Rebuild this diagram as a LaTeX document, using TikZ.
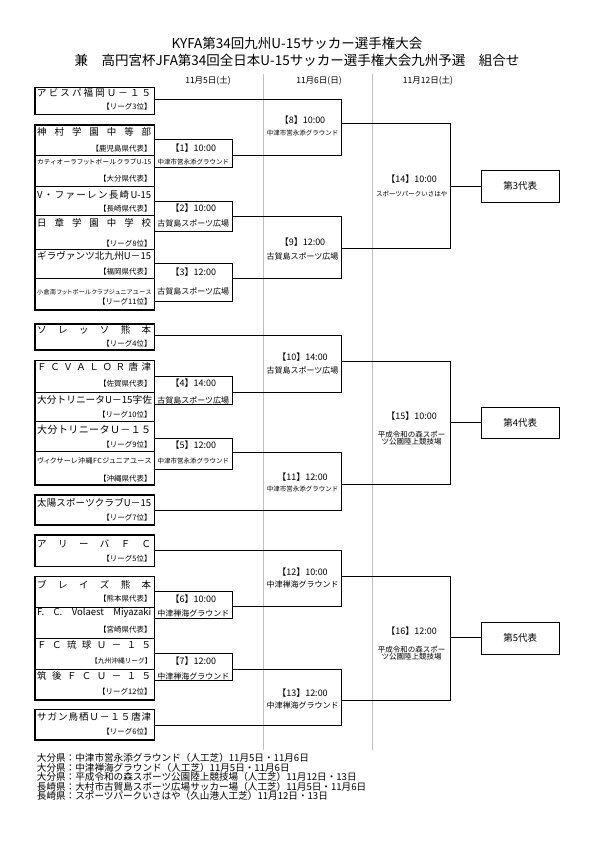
\documentclass[tikz,border=0pt]{standalone}
\usepackage{fontspec}
\setmainfont{Noto Sans CJK JP}
\newfontfamily\pjfont{Noto Sans CJK JP}[RawFeature=+palt]
\newcommand\setfs[1]{\fontsize{#1}{#1}\selectfont}
\makeatletter
\newcommand\dist[1]{\makebox[114pt][s]{\dist@a#1\relax}}
\def\dist@a#1{#1\dist@b}
\def\dist@b#1{\ifx\relax#1\else\hfill#1\expandafter\dist@b\fi}
\makeatother

\begin{document}
\begin{tikzpicture}%
	[x=1pt, y=-1pt,
	team/.style={draw, line width=0.5pt, minimum width=119.3pt, inner sep=0pt, outer sep=0pt},
	groupframe/.style={draw, line width=1.2pt},
	match/.style={draw, line width=0.9pt, minimum width=78pt, inner sep=0pt, outer sep=0pt},
	result/.style={draw, line width=0.9pt, minimum width=78.3pt, inner sep=0pt, outer sep=0pt, font=\setfs{9.5}},
	link/.style={line width=0.9pt},
	guide/.style={draw=black!25, line width=0.8pt},
	teamname/.style={inner sep=0pt, font=\setfs{9.5}},
	seed/.style={inner sep=0pt, anchor=east, font=\setfs{7.5}},
	kickoff/.style={inner sep=0pt, font=\setfs{9}},
	venue/.style={inner sep=0pt, font=\setfs{8}},
	smallvenue/.style={inner sep=0pt, font=\setfs{6.5}},
	date/.style={inner sep=0pt, font=\setfs{8.5}}]
\useasboundingbox (0,0) rectangle (595,842);
%%
%% Title and dates
%%
\node[inner sep=0pt, font=\setfs{13.5}] (title1) at (297,43) {KYFA第34回九州U-15サッカー選手権大会};
\node[inner sep=0pt, font=\setfs{13.5}] (title2) at (297,60.7) {兼　高円宮杯JFA第34回全日本U-15サッカー選手権大会九州予選　組合せ};
\node[date] (d1) at (208,81) {11月5日(土)};
\node[date] (d2) at (319,81) {11月6日(日)};
\node[date] (d3) at (428,81) {11月12日(土)};
\draw[guide] (263.5,74) -- (263.5,750);
\draw[guide] (372.5,74) -- (372.5,750);
%%
%% Team boxes
%%
\node[team, minimum height=27pt] (t1) at (94.65,101.2) {};
\node[team, minimum height=30.7pt] (t2) at (94.65,140.35) {};
\node[team, minimum height=31pt] (t3) at (94.65,171.2) {};
\node[team, minimum height=28.3pt] (t4) at (94.65,200.85) {};
\node[team, minimum height=34pt] (t5) at (94.65,232) {};
\node[team, minimum height=29.3pt] (t6) at (94.65,263.65) {};
\node[team, minimum height=31.7pt] (t7) at (94.65,294.15) {};
\node[team, minimum height=26pt] (t8) at (94.65,337) {};
\node[team, minimum height=31.6pt] (t9) at (94.65,376.5) {};
\node[team, minimum height=29.4pt] (t10) at (94.65,407) {};
\node[team, minimum height=30pt] (t11) at (94.65,436.7) {};
\node[team, minimum height=33.3pt] (t12) at (94.65,468.35) {};
\node[team, minimum height=30pt] (t13) at (94.65,510) {};
\node[team, minimum height=31.7pt] (t14) at (94.65,550.85) {};
\node[team, minimum height=30.6pt] (t15) at (94.65,592) {};
\node[team, minimum height=31pt] (t16) at (94.65,622.8) {};
\node[team, minimum height=30.7pt] (t17) at (94.65,653.65) {};
\node[team, minimum height=31pt] (t18) at (94.65,684.5) {};
\node[team, minimum height=30.7pt] (t19) at (94.65,724.65) {};
\draw[groupframe] (t1.north west) rectangle (t1.south east);
\draw[groupframe] (t2.north west) rectangle (t7.south east);
\draw[groupframe] (t8.north west) rectangle (t8.south east);
\draw[groupframe] (t9.north west) rectangle (t12.south east);
\draw[groupframe] (t13.north west) rectangle (t13.south east);
\draw[groupframe] (t14.north west) rectangle (t14.south east);
\draw[groupframe] (t15.north west) rectangle (t18.south east);
\draw[groupframe] (t19.north west) rectangle (t19.south east);
%%
%% Team names and seeds
%%
\node[teamname] (t1n) at (94.2,93.2) {\dist{アビスパ福岡Ｕ－１５}};
\node[seed] (t1s) at (151.7,106.7) {【リーグ3位】};
\node[teamname] (t2n) at (94.2,132.3) {\dist{神村学園中等部}};
\node[seed] (t2s) at (151.7,148.3) {【鹿児島県代表】};
\node[teamname, font=\pjfont\setfs{6.6}] (t3n) at (94.2,161.7) {\dist{カティオーラフットボールクラブ{U-15}}};
\node[seed] (t3s) at (151.7,178.3) {【大分県代表】};
\node[teamname] (t4n) at (94.2,195) {\dist{V・ファーレン長崎{U-15}}};
\node[seed] (t4s) at (151.7,208.3) {【長崎県代表】};
\node[teamname] (t5n) at (94.2,223.3) {\dist{日章学園中学校}};
\node[seed] (t5s) at (151.7,243.3) {【リーグ8位】};
\node[teamname] (t6n) at (94.2,256) {\dist{ギラヴァンツ北九州U－15}};
\node[seed] (t6s) at (151.7,271.7) {【福岡県代表】};
\node[teamname, font=\pjfont\setfs{6}] (t7n) at (94.2,291.7) {\dist{小倉南フットボールクラブジュニアユース}};
\node[seed] (t7s) at (151.7,301.7) {【リーグ11位】};
\node[teamname] (t8n) at (94.2,330) {\dist{ソレッソ熊本}};
\node[seed] (t8s) at (151.7,344) {【リーグ4位】};
\node[teamname] (t9n) at (94.2,366.7) {\dist{ＦＣＶＡＬＯＲ唐津}};
\node[seed] (t9s) at (151.7,383.3) {【佐賀県代表】};
\node[teamname, font=\setfs{9.7}] (t10n) at (94.2,400) {\dist{大分トリニータU－15宇佐}};
\node[seed] (t10s) at (151.7,414.3) {【リーグ10位】};
\node[teamname, font=\setfs{10}] (t11n) at (94.2,430) {\dist{大分トリニータＵ－１５}};
\node[seed] (t11s) at (151.7,445) {【リーグ9位】};
\node[teamname, font=\pjfont\setfs{7}] (t12n) at (94.2,460.7) {\dist{ヴィクサーレ沖縄FCジュニアユース}};
\node[seed] (t12s) at (151.7,478.3) {【沖縄県代表】};
\node[teamname] (t13n) at (94.2,503.3) {\dist{太陽スポーツクラブU－15}};
\node[seed] (t13s) at (151.7,517.3) {【リーグ7位】};
\node[teamname] (t14n) at (94.2,543.3) {\dist{アリーバＦＣ}};
\node[seed] (t14s) at (151.7,558.3) {【リーグ5位】};
\node[teamname] (t15n) at (94.2,585) {\dist{ブレイズ熊本}};
\node[seed] (t15s) at (151.7,599) {【熊本県代表】};
\node[teamname] (t16n) at (94.2,613.3) {\makebox[114pt][s]{F.\hfill C.\hfill Volaest\hfill Miyazaki}};
\node[seed] (t16s) at (151.7,630) {【宮崎県代表】};
\node[teamname] (t17n) at (94.2,645) {\dist{ＦＣ琉球Ｕ－１５}};
\node[seed, font=\setfs{6.7}] (t17s) at (151.7,661) {【九州沖縄リーグ】};
\node[teamname] (t18n) at (94.2,676) {\dist{筑後ＦＣＵ－１５}};
\node[seed] (t18s) at (151.7,691.7) {【リーグ12位】};
\node[teamname] (t19n) at (94.2,716.7) {\dist{サガン鳥栖Ｕ－１５唐津}};
\node[seed] (t19s) at (151.7,731.7) {【リーグ6位】};
%%
%% First round boxes
%%
\node[match, minimum height=28pt] (m1) at (193.3,153.3) {};
\node[match, minimum height=29.3pt] (m2) at (193.3,216.35) {};
\node[match, minimum height=38.2pt] (m3) at (193.3,282.4) {};
\node[match, minimum height=28pt] (m4) at (193.3,390) {};
\node[match, minimum height=30.7pt] (m5) at (193.3,453.65) {};
\node[match, minimum height=26.6pt] (m6) at (193.3,605) {};
\node[match, minimum height=27pt] (m7) at (193.3,666.8) {};
\node[kickoff] (m1k) at (193.3,148.3) {【1】10:00};
\node[smallvenue] (m1v) at (193.3,161.7) {中津市営永添グラウンド};
\node[kickoff] (m2k) at (193.3,208.3) {【2】10:00};
\node[venue] (m2v) at (193.3,223.3) {古賀島スポーツ広場};
\node[kickoff] (m3k) at (193.3,271.7) {【3】12:00};
\node[venue] (m3v) at (193.3,291.7) {古賀島スポーツ広場};
\node[kickoff] (m4k) at (193.3,383.3) {【4】14:00};
\node[venue] (m4v) at (193.3,400) {古賀島スポーツ広場};
\node[kickoff] (m5k) at (193.3,445) {【5】12:00};
\node[smallvenue] (m5v) at (193.3,460.7) {中津市営永添グラウンド};
\node[kickoff] (m6k) at (193.3,599) {【6】10:00};
\node[venue] (m6v) at (193.3,613.3) {中津禅海グラウンド};
\node[kickoff] (m7k) at (193.3,661) {【7】12:00};
\node[venue] (m7v) at (193.3,676) {中津禅海グラウンド};
%%
%% Second round brackets
%%
\coordinate (b8t) at (341.5,99.3);
\coordinate (b8b) at (341.5,155.7);
\coordinate (b8o) at (341.5,123.5);
\coordinate (b9t) at (341.5,216.7);
\coordinate (b9b) at (341.5,278.3);
\coordinate (b9o) at (341.5,248.3);
\coordinate (b10t) at (341.5,335);
\coordinate (b10b) at (341.5,392.3);
\coordinate (b10o) at (341.5,361);
\coordinate (b11t) at (341.5,452.3);
\coordinate (b11b) at (341.5,510.7);
\coordinate (b11o) at (341.5,484.3);
\coordinate (b12t) at (341.5,550.7);
\coordinate (b12b) at (341.5,606);
\coordinate (b12o) at (341.5,576);
\coordinate (b13t) at (341.5,669.3);
\coordinate (b13b) at (341.5,725);
\coordinate (b13o) at (341.5,700);
\draw[link] (t1.east |- b8t) -- (b8t) -- (b8b) -- (m1.east |- b8b);
\draw[link] (m2.east |- b9t) -- (b9t) -- (b9b) -- (m3.east |- b9b);
\draw[link] (t8.east |- b10t) -- (b10t) -- (b10b) -- (m4.east |- b10b);
\draw[link] (m5.east |- b11t) -- (b11t) -- (b11b) -- (t13.east |- b11b);
\draw[link] (t14.east |- b12t) -- (b12t) -- (b12b) -- (m6.east |- b12b);
\draw[link] (m7.east |- b13t) -- (b13t) -- (b13b) -- (t19.east |- b13b);
\node[kickoff] (b8k) at (302.5,120) {【8】10:00};
\node[smallvenue] (b8v) at (302.5,133.3) {中津市営永添グラウンド};
\node[kickoff] (b9k) at (302.5,241.7) {【9】12:00};
\node[venue] (b9v) at (302.5,256.7) {古賀島スポーツ広場};
\node[kickoff] (b10k) at (302.5,356.7) {【10】14:00};
\node[venue] (b10v) at (302.5,370.7) {古賀島スポーツ広場};
\node[kickoff] (b11k) at (302.5,476.7) {【11】12:00};
\node[smallvenue] (b11v) at (302.5,489.3) {中津市営永添グラウンド};
\node[kickoff] (b12k) at (302.5,571.7) {【12】10:00};
\node[venue] (b12v) at (302.5,584.3) {中津禅海グラウンド};
\node[kickoff] (b13k) at (302.5,692.7) {【13】12:00};
\node[venue] (b13v) at (302.5,705) {中津禅海グラウンド};
%%
%% Third round brackets and results
%%
\coordinate (b14t) at (450,123.5);
\coordinate (b14b) at (450,248.3);
\coordinate (b14o) at (450,186.7);
\coordinate (b15t) at (450,361);
\coordinate (b15b) at (450,484.3);
\coordinate (b15o) at (450,422.7);
\coordinate (b16t) at (450,576);
\coordinate (b16b) at (450,700);
\coordinate (b16o) at (450,637.7);
\node[result, minimum height=32pt] (r3) at (520.15,186.3) {第3代表};
\node[result, minimum height=31pt] (r4) at (520.15,422.8) {第4代表};
\node[result, minimum height=31.7pt] (r5) at (520.15,638.15) {第5代表};
\draw[link] (b8o) -- (b14t) -- (b14b) -- (b9o);
\draw[link] (b10o) -- (b15t) -- (b15b) -- (b11o);
\draw[link] (b12o) -- (b16t) -- (b16b) -- (b13o);
\draw[link] (b14o) -- (r3.west |- b14o);
\draw[link] (b15o) -- (r4.west |- b15o);
\draw[link] (b16o) -- (r5.west |- b16o);
\node[kickoff] (b14k) at (411.7,179) {【14】10:00};
\node[smallvenue] (b14v) at (411.7,194) {スポーツパークいさはや};
\node[kickoff] (b15k) at (411.7,416) {【15】10:00};
\node[venue, font=\setfs{7.5}, align=center] (b15v) at (411.7,438.2) {平成令和の森スポー\\ツ公園陸上競技場};
\node[kickoff] (b16k) at (411.7,631) {【16】12:00};
\node[venue, font=\setfs{7.5}, align=center] (b16v) at (411.7,653) {平成令和の森スポー\\ツ公園陸上競技場};
%%
%% Venues
%%
\node[anchor=north west, inner sep=0pt, align=left, font=\fontsize{9.6}{9.45}\selectfont] (venues) at (36.7,753.5)
	{大分県：中津市営永添グラウンド（人工芝）11月5日・11月6日\\
	大分県：中津禅海グラウンド（人工芝）11月5日・11月6日\\
	大分県：平成令和の森スポーツ公園陸上競技場（人工芝）11月12日・13日\\
	長崎県：大村市古賀島スポーツ広場サッカー場（人工芝）11月5日・11月6日\\
	長崎県：スポーツパークいさはや（久山港人工芝）11月12日・13日};
%%
\end{tikzpicture}
\end{document}
